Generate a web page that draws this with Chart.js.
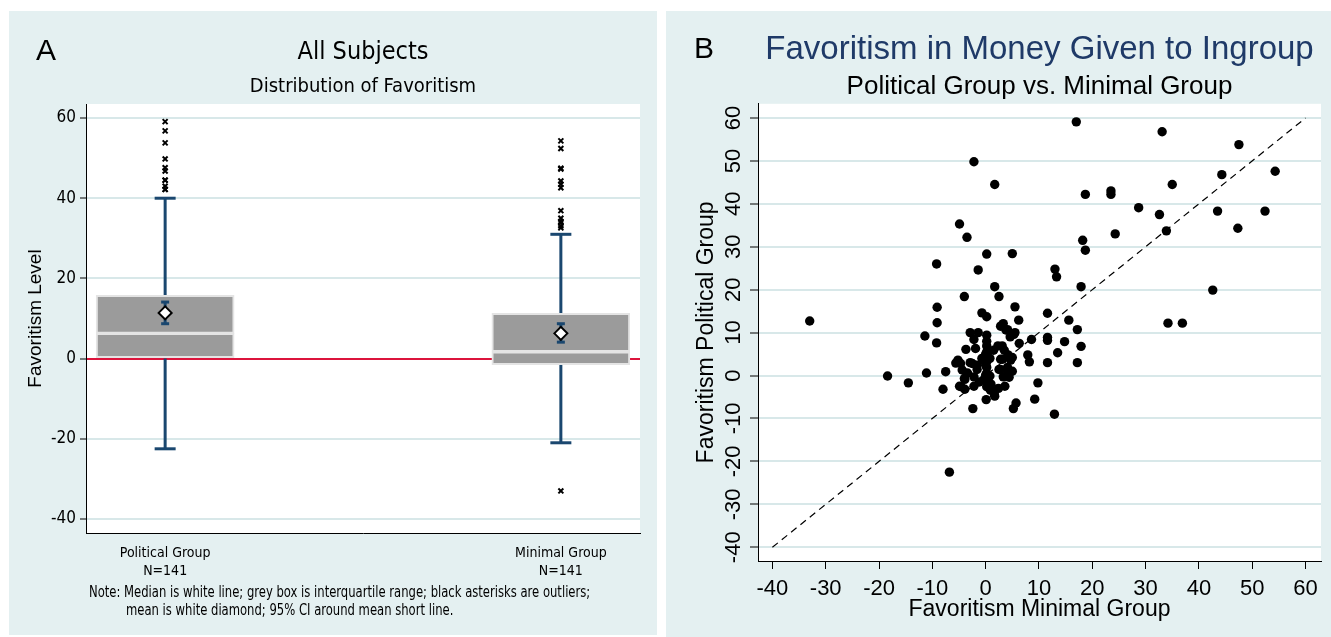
<!DOCTYPE html>
<html><head><meta charset="utf-8">
<script src="https://cdn.jsdelivr.net/npm/chart.js@4.4.1/dist/chart.umd.min.js"></script>
<style>
html,body{margin:0;padding:0;background:#fff;}
body{width:1331px;height:637px;position:relative;overflow:hidden;}
.panel{position:absolute;background:#e4f0f1;}
#pa{left:9px;top:11px;width:648px;height:624px;}
#pb{left:666px;top:11px;width:665px;height:626px;}
canvas{position:absolute;left:0;top:0;}
.lbl{position:absolute;font-family:'Liberation Sans',Arial,sans-serif;font-size:30px;line-height:30px;color:#000;}
.note{position:absolute;font-family:'Liberation Sans Narrow','Arial Narrow','DejaVu Sans Condensed',sans-serif;font-size:15px;line-height:18px;white-space:nowrap;color:#000;transform:scaleX(0.86);transform-origin:0 0;}
</style></head><body>
<div class="panel" id="pa"><canvas id="ca" width="648" height="624"></canvas></div>
<div class="panel" id="pb"><canvas id="cb" width="665" height="626"></canvas></div>
<div class="lbl" style="left:36px;top:35px">A</div>
<div class="lbl" style="left:694px;top:33px">B</div>
<div class="note" style="left:89px;top:583px">Note: Median is white line; grey box is interquartile range; black asterisks are outliers;</div>
<div class="note" style="left:126px;top:601px">mean is white diamond; 95% CI around mean short line.</div>
<script>
// ---------- Panel A data (box plot) ----------
const groups = ['Political Group', 'Minimal Group'];
const groupN = ['N=141', 'N=141'];
const q1 = [0, -1.5];
const median = [6.3, 1.7];
const q3 = [15.8, 11.3];
const whiskerLow = [-22.5, -21];
const whiskerHigh = [40, 31];
const mean = [11.4, 6.3];
const ciLow = [8.7, 4.1];
const ciHigh = [14.1, 8.7];
const outliersPolitical = [59.1, 56.8, 53.8, 49.8, 47.6, 46.8, 44.5, 44.5, 43.0, 42.2, 42.2];
const outliersMinimal = [54.3, 52.4, 47.5, 47.3, 44.3, 43.5, 42.6, 36.9, 35.0, 34.2, 33.9, 33.1, 32.6, -33];
const yTicksA = [-40, -20, 0, 20, 40, 60];

// ---------- Panel B data (scatter) ----------
const minimalX = [17.0,33.1,47.5,54.3,44.3,35.0,1.7,-2.2,18.7,23.5,23.5,28.7,32.6,43.5,52.4,33.9,47.3,24.3,18.2,18.7,
 5.0,13.0,13.3,17.9,42.6,1.7,2.5,5.5,11.6,15.6,6.2,34.2,36.9,-4.9,-3.5,0.2,-9.2,-1.4,-4.0,-9.1,
 -0.7,0.2,-33.0,-9.1,3.3,4.1,5.3,4.6,17.2,11.6,11.6,8.6,6.3,14.8,17.9,13.5,7.9,8.2,11.6,17.2,
 -11.4,-2.9,-1.4,0.2,-2.2,-9.2,-3.7,-1.9,0.2,2.3,3.1,0.2,0.2,0.2,0.2,0.2,0.2,0.2,1.5,2.8,
 3.5,-0.6,-1.6,-5.2,-4.7,-7.5,-11.1,-18.4,-14.5,-8.0,-4.4,-4.0,-4.6,-2.5,-2.2,-2.2,2.8,3.3,3.6,4.1,
 4.7,4.4,1.6,0.8,2.4,0.1,-2.4,5.7,5.2,9.2,9.8,12.9,-6.8,-3.4,-0.3,0.8,0.9,4.2,2.5,5.0,
 5.0,4.2,3.2,0.2,-0.7,0.0,0.8,-1.7,-2.9,-5.6,-3.9,1.7,0.0,-1.2,-3.9,-4.9,2.8,0.0,3.8,5.5,1.0];
const politicalY = [59.1,56.8,53.8,47.6,46.8,44.5,44.5,49.8,42.2,43.0,42.2,39.1,37.5,38.3,38.3,33.7,34.3,33.0,31.5,29.2,
 28.4,24.8,23.0,20.7,19.9,20.7,18.4,16.0,14.5,12.9,12.9,12.2,12.2,35.3,32.2,28.3,26.0,24.6,18.4,15.9,
 14.6,13.7,12.7,12.3,12.1,10.7,9.6,9.0,10.7,8.9,8.2,8.4,7.5,7.9,6.8,5.3,4.8,3.2,3.0,3.0,
 9.2,10.0,10.0,9.4,8.4,7.6,6.1,6.3,6.9,6.9,6.9,5.5,4.4,3.2,1.9,0.6,-1.1,-2.6,5.9,3.8,
 5.9,3.6,1.4,3.6,2.8,0.9,0.6,-0.1,-1.7,-3.2,1.3,-0.7,-2.6,2.8,-0.3,-2.5,1.4,-0.3,-2.5,1.9,
 3.6,-0.4,-4.2,-3.0,-3.0,-5.6,-7.7,-6.4,-7.7,-5.5,-1.7,-9.0,-22.5,0.6,-0.9,-0.1,-3.4,0.6,1.4,1.0,
 4.2,4.8,3.8,8.0,4.0,5.0,4.0,2.4,3.0,2.9,-3.2,-4.8,0.1,-1.5,-0.9,-2.5,11.5,2.4,10.6,10.0,-2.0];
const diagX = [-40, 60];
const diagY = [-40, 60];
const xTicksB = [-40, -30, -20, -10, 0, 10, 20, 30, 40, 50, 60];
const yTicksB = [-40, -30, -20, -10, 0, 10, 20, 30, 40, 50, 60];

// ---------- styles ----------
const NAVY = '#1a476f';
const GRID = '#d8e8e9';
const NARROW = "'Liberation Sans Narrow','Arial Narrow','DejaVu Sans Condensed',sans-serif";
const SANS = "'Liberation Sans',Arial,sans-serif";
Chart.defaults.color = '#000';

const whiteArea = {id:'whiteArea', beforeDraw(c){const {ctx, chartArea:a} = c; ctx.save(); ctx.fillStyle = '#fff'; ctx.fillRect(a.left, a.top, a.right - a.left, a.bottom - a.top); ctx.restore();}};

const idx = groups.map((g, i) => i);
const dsA = [];
dsA.push({type:'bar', data: idx.map(i => ({x:i, y:[median[i], q3[i]]})), backgroundColor:'#9b9b9b', borderColor:'#e4e4e4', borderWidth:2, borderSkipped:false, barThickness:138, grouped:false, order:3});
dsA.push({type:'bar', data: idx.map(i => ({x:i, y:[q1[i], median[i]]})), backgroundColor:'#9b9b9b', borderColor:'#e4e4e4', borderWidth:2, borderSkipped:false, barThickness:138, grouped:false, order:3});
idx.forEach(i => {
  dsA.push({type:'line', data:[{x:i, y:q3[i]}, {x:i, y:whiskerHigh[i]}], borderColor:NAVY, borderWidth:3, pointRadius:0, order:5});
  dsA.push({type:'line', data:[{x:i, y:q1[i]}, {x:i, y:whiskerLow[i]}], borderColor:NAVY, borderWidth:3, pointRadius:0, order:5});
  dsA.push({type:'line', data:[{x:i, y:ciLow[i]}, {x:i, y:ciHigh[i]}], borderColor:NAVY, borderWidth:3, pointRadius:0, order:2});
});
dsA.push({type:'scatter', data: idx.flatMap(i => [{x:i, y:whiskerHigh[i]}, {x:i, y:whiskerLow[i]}]), pointStyle:'line', pointRadius:10.5, borderColor:NAVY, pointBorderColor:NAVY, pointBorderWidth:3, order:4});
dsA.push({type:'scatter', data: idx.flatMap(i => [{x:i, y:ciLow[i]}, {x:i, y:ciHigh[i]}]), pointStyle:'line', pointRadius:4, borderColor:NAVY, pointBorderColor:NAVY, pointBorderWidth:3, order:2});
dsA.push({type:'scatter', data: idx.map(i => ({x:i, y:mean[i]})), pointStyle:'rectRot', pointRadius:6.5, pointBackgroundColor:'#fff', backgroundColor:'#fff', pointBorderColor:'#000', borderColor:'#000', pointBorderWidth:2, order:1});
dsA.push({type:'scatter', data: outliersPolitical.map(v => ({x:0, y:v})).concat(outliersMinimal.map(v => ({x:1, y:v}))), pointStyle:'crossRot', pointRadius:3.5, pointBorderColor:'#000', borderColor:'#000', pointBorderWidth:2, order:1});

new Chart(document.getElementById('ca'), {
  type:'bar',
  data:{datasets:dsA},
  plugins:[whiteArea],
  options:{
    responsive:false, animation:false, devicePixelRatio:1, events:[],
    layout:{padding:{left:0, right:17, top:0, bottom:0}},
    plugins:{
      legend:{display:false}, tooltip:{enabled:false},
      title:{display:true, text:'All Subjects', fullSize:false, color:'#000', font:{family:NARROW, size:25, weight:'normal', lineHeight:1.2}, padding:{top:26, bottom:8}},
      subtitle:{display:true, text:'Distribution of Favoritism', fullSize:false, color:'#000', font:{family:NARROW, size:20, weight:'normal', lineHeight:1.2}, padding:{top:0, bottom:5}}
    },
    scales:{
      x:{type:'linear', min:-0.2, max:1.2, offset:false,
        grid:{display:false}, border:{display:true, color:'#000', width:1},
        afterBuildTicks:s => { s.ticks = idx.map(i => ({value:i})); },
        afterFit:s => { s.height = 102; },
        ticks:{autoSkip:false, maxRotation:0, minRotation:0, padding:3, color:'#000', font:{family:NARROW, size:14, lineHeight:1.3}, callback:v => [groups[v], groupN[v]]}},
      y:{type:'linear', min:-43.5, max:63.5,
        afterBuildTicks:s => { s.ticks = yTicksA.map(v => ({value:v})); },
        afterFit:s => { s.width = 77; },
        grid:{color:c => (c.tick && c.tick.value === 0) ? '#dc143c' : GRID, lineWidth:2, tickLength:6, tickColor:'#000', tickWidth:1},
        border:{display:true, color:'#000', width:1},
        ticks:{padding:4, color:'#000', font:{family:NARROW, size:17}},
        title:{display:true, text:'Favoritism Level', color:'#000', font:{family:SANS, size:19}, padding:{top:15, bottom:0}}}
    }
  }
});

new Chart(document.getElementById('cb'), {
  type:'scatter',
  data:{datasets:[
    {type:'scatter', data: minimalX.map((x, i) => ({x:x, y:politicalY[i]})), pointRadius:4.7, pointBackgroundColor:'#000', backgroundColor:'#000', pointBorderWidth:0, borderWidth:0, order:1},
    {type:'line', data: diagX.map((x, i) => ({x:x, y:diagY[i]})), borderColor:'#000', borderWidth:1.2, borderDash:[7,5], pointRadius:0, order:2}
  ]},
  plugins:[whiteArea],
  options:{
    responsive:false, animation:false, devicePixelRatio:1, events:[],
    layout:{padding:{left:0, right:10, top:0, bottom:0}},
    plugins:{
      legend:{display:false}, tooltip:{enabled:false},
      title:{display:true, text:'Favoritism in Money Given to Ingroup', fullSize:false, color:'#1f3a68', font:{family:SANS, size:33, weight:'normal', lineHeight:1.2}, padding:{top:19, bottom:1.6}},
      subtitle:{display:true, text:'Political Group vs. Minimal Group', fullSize:false, color:'#000', font:{family:SANS, size:26, weight:'normal', lineHeight:1.2}, padding:{top:0, bottom:1.4}}
    },
    scales:{
      x:{type:'linear', min:-42.7, max:62.9,
        afterBuildTicks:s => { s.ticks = xTicksB.map(v => ({value:v})); },
        afterFit:s => { s.height = 76; },
        grid:{drawOnChartArea:false, drawTicks:true, tickLength:8, color:'#000', tickColor:'#000', tickWidth:1},
        border:{display:true, color:'#000', width:1},
        ticks:{padding:7, autoSkip:false, maxRotation:0, color:'#000', font:{family:SANS, size:22}},
        title:{display:true, text:'Favoritism Minimal Group', color:'#000', font:{family:SANS, size:23}, padding:{top:0, bottom:14}}},
      y:{type:'linear', min:-43.2, max:63.3,
        afterBuildTicks:s => { s.ticks = yTicksB.map(v => ({value:v})); },
        afterFit:s => { s.width = 92; },
        grid:{color:GRID, lineWidth:2, tickLength:8, tickColor:'#000', tickWidth:1},
        border:{display:true, color:'#000', width:1},
        ticks:{minRotation:90, maxRotation:90, crossAlign:'center', padding:0, autoSkip:false, color:'#000', font:{family:SANS, size:22}},
        title:{display:true, text:'Favoritism Political Group', color:'#000', font:{family:SANS, size:23}, padding:{top:27, bottom:0}}}
    }
  }
});
</script>
</body></html>
